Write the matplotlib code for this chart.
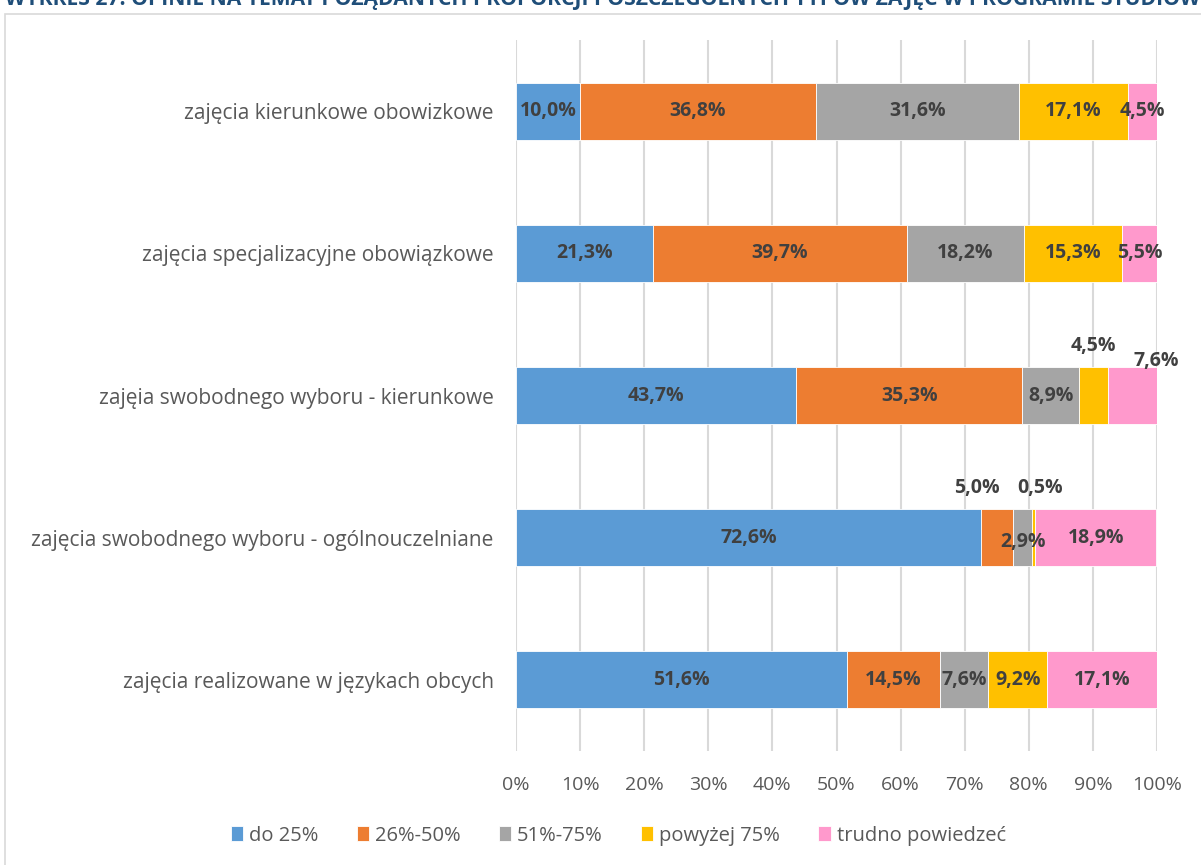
import matplotlib
matplotlib.use("Agg")
import matplotlib.pyplot as plt
from matplotlib.patches import Rectangle

categories = [
    "zajęcia kierunkowe obowizkowe",
    "zajęcia specjalizacyjne obowiązkowe",
    "zajęia swobodnego wyboru - kierunkowe",
    "zajęcia swobodnego wyboru - ogólnouczelniane",
    "zajęcia realizowane w językach obcych",
]
series_names = ["do 25%", "26%-50%", "51%-75%", "powyżej 75%", "trudno powiedzeć"]
do25 = [10.0, 21.3, 43.7, 72.6, 51.6]
p26_50 = [36.8, 39.7, 35.3, 5.0, 14.5]
p51_75 = [31.6, 18.2, 8.9, 2.9, 7.6]
above75 = [17.1, 15.3, 4.5, 0.5, 9.2]
hard = [4.5, 5.5, 7.6, 18.9, 17.1]
ticks = list(range(0, 101, 10))

series = [do25, p26_50, p51_75, above75, hard]
colors = ["#5B9BD5", "#ED7D31", "#A5A5A5", "#FFC000", "#FF99CC"]

# labels that sit outside/shifted: (row, series) -> offset in points
offsets = {
    (2, 3): (0, 36),
    (2, 4): (17, 25),
    (3, 1): (-15, 36),
    (3, 2): (0, -3),
    (3, 3): (5, 36),
}

plt.rcParams["font.family"] = ["Open Sans", "DejaVu Sans"]

fig = plt.figure(figsize=(12.01, 8.65), dpi=100)
ax = fig.add_axes([516 / 1201, 1 - 751 / 865, 641 / 1201, 711 / 865])

fig.patches.append(Rectangle((5 / 1201, -0.1), 1.2, 1 - 14 / 865 + 0.1,
                             transform=fig.transFigure, fill=False,
                             edgecolor="#D9D9D9", linewidth=1.2, zorder=-5))

y = list(range(len(categories)))
left = [0.0] * len(categories)
for si, (vals, col, name) in enumerate(zip(series, colors, series_names)):
    ax.barh(y, vals, left=left, height=0.4, color=col, label=name,
            edgecolor="white", linewidth=0.6, zorder=3)
    for ri, v in enumerate(vals):
        cx = left[ri] + v / 2
        txt = f"{v:.1f}%".replace(".", ",")
        off = offsets.get((ri, si), (0, 0))
        ax.annotate(txt, (cx, ri), xytext=off, textcoords="offset points",
                    ha="center", va="center", fontsize=14, fontweight="bold",
                    color="#404040", zorder=5, annotation_clip=False)
    left = [a + b for a, b in zip(left, vals)]

ax.set_xlim(0, 100)
ax.set_ylim(len(categories) - 0.5, -0.5)
ax.set_xticks(ticks)
ax.set_xticklabels([f"{t}%" for t in ticks])
ax.set_yticks(y)
ax.set_yticklabels(categories)
ax.tick_params(axis="x", length=0, labelsize=14, colors="#595959", pad=18)
ax.tick_params(axis="y", length=0, labelsize=15, colors="#595959", pad=16)
ax.xaxis.grid(True, color="#D9D9D9", linewidth=1.5, zorder=0)
ax.set_axisbelow(True)
for s in ax.spines.values():
    s.set_visible(False)

fig.legend(loc="center", bbox_to_anchor=(0.515, 0.034), ncol=5, frameon=False,
           fontsize=14.5, labelcolor="#595959", handlelength=0.6, handleheight=0.8,
           handletextpad=0.3, columnspacing=1.9)

fig.text(0.004, 1.003, "WYKRES 27. OPINIE NA TEMAT POŻĄDANYCH PROPORCJI POSZCZEGÓLNYCH TYPÓW ZAJĘĆ W PROGRAMIE STUDIÓW",
         ha="left", va="center", fontsize=15.2, fontweight="bold", color="#1F4E79")

fig.savefig("out.png", dpi=100)
